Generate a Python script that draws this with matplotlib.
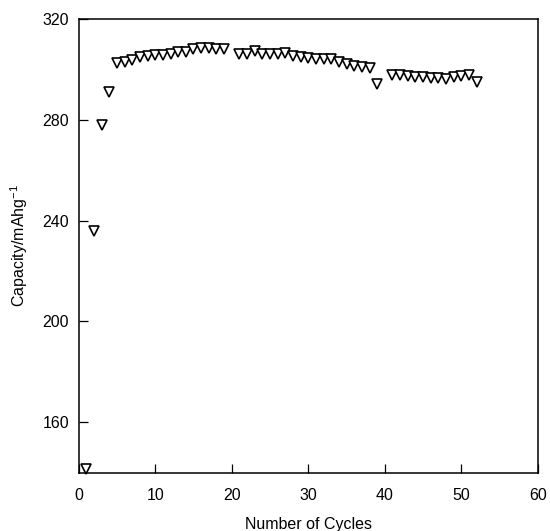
import matplotlib
matplotlib.use('Agg')
import matplotlib.pyplot as plt

plt.rcParams['font.family'] = ['Liberation Sans', 'DejaVu Sans']
plt.rcParams['mathtext.fontset'] = 'custom'
plt.rcParams['mathtext.rm'] = 'Liberation Sans'

# cycle number -> discharge capacity (mAh/g)
cycles = [1, 2, 3, 4, 5, 6, 7, 8, 9, 10, 11, 12, 13, 14, 15, 16, 17, 18, 19,
          21, 22, 23, 24, 25, 26, 27, 28, 29, 30, 31, 32, 33, 34, 35, 36, 37, 38, 39,
          41, 42, 43, 44, 45, 46, 47, 48, 49, 50, 51, 52]
capacity = [141.5, 236, 278, 291, 302.6, 303.1, 303.9, 304.8, 305.5, 305.8, 305.8,
            306.2, 306.8, 307.1, 308.1, 308.7, 308.5, 308.3, 308.1,
            306.3, 306.0, 307.3, 306.3, 306.3, 306.0, 306.7, 305.4, 305.0, 304.4,
            304.0, 304.0, 304.0, 303.1, 302.1, 301.4, 300.8, 300.5, 294.1,
            297.8, 297.8, 297.4, 297.0, 297.0, 296.8, 296.8, 296.1, 297.0, 297.4,
            297.7, 295.2]

xticks = [0, 10, 20, 30, 40, 50, 60]
yticks = [160, 200, 240, 280, 320]

fig = plt.figure(figsize=(5.5, 5.31), dpi=100)
ax = fig.add_axes([0.143, 0.110, 0.835, 0.854])

ax.plot(cycles, capacity, linestyle='none', marker='v', markersize=7.2,
        markerfacecolor='white', markeredgecolor='black', markeredgewidth=1.2,
        clip_on=False, zorder=3)

ax.set_xlim(0, 60)
ax.set_ylim(140, 320)
ax.set_xticks(xticks)
ax.set_yticks(yticks)
ax.tick_params(direction='in', length=6.5, width=0.9, labelsize=11.5)
ax.tick_params(axis='x', pad=11)
ax.tick_params(axis='y', pad=7)
for s in ax.spines.values():
    s.set_linewidth(1.1)

ax.set_xlabel('Number of Cycles', fontsize=11.5, labelpad=10)
ax.set_ylabel(r'Capacity/mAhg$^{\mathregular{-1}}$', fontsize=11.5, labelpad=9)

fig.savefig('out.png', dpi=100)
